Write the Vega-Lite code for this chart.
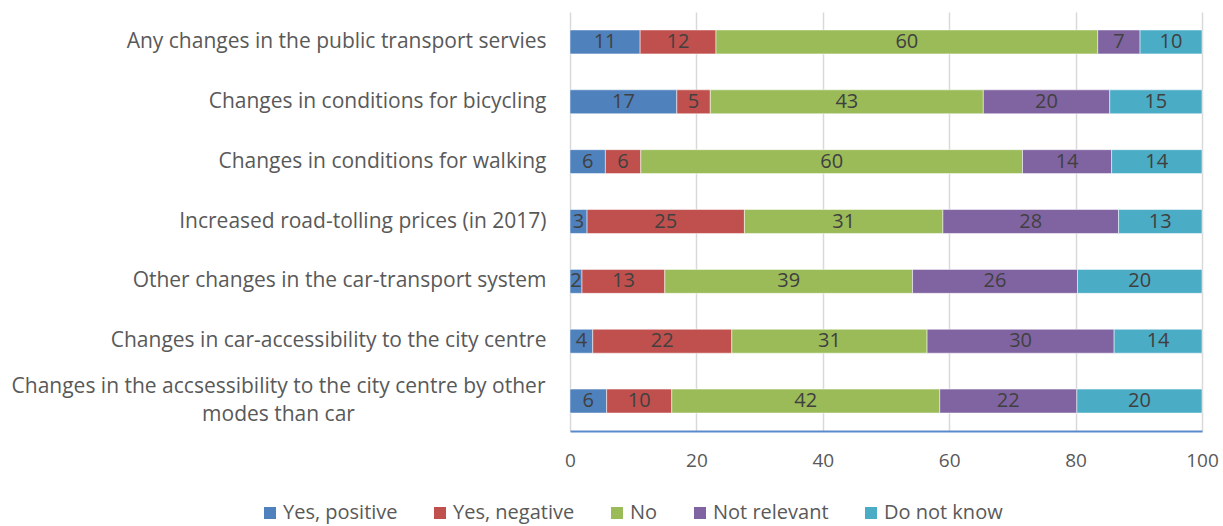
{
  "$schema": "https://vega.github.io/schema/vega-lite/v6.json",
  "width": 632,
  "height": 419,
  "autosize": {"type": "none"},
  "padding": {"left": 570, "top": 12, "right": 21, "bottom": 95},
  "background": "white",
  "config": {"font": "Open Sans", "view": {"stroke": null}},
  "data": {
    "values": [
      {"q": "Any changes in the public transport servies", "r": "Yes, positive", "v": 11.1, "o": 1},
      {"q": "Any changes in the public transport servies", "r": "Yes, negative", "v": 12.0, "o": 2},
      {"q": "Any changes in the public transport servies", "r": "No", "v": 60.4, "o": 3},
      {"q": "Any changes in the public transport servies", "r": "Not relevant", "v": 6.7, "o": 4},
      {"q": "Any changes in the public transport servies", "r": "Do not know", "v": 9.8, "o": 5},
      {"q": "Changes in conditions for bicycling", "r": "Yes, positive", "v": 16.9, "o": 1},
      {"q": "Changes in conditions for bicycling", "r": "Yes, negative", "v": 5.3, "o": 2},
      {"q": "Changes in conditions for bicycling", "r": "No", "v": 43.2, "o": 3},
      {"q": "Changes in conditions for bicycling", "r": "Not relevant", "v": 20.0, "o": 4},
      {"q": "Changes in conditions for bicycling", "r": "Do not know", "v": 14.6, "o": 5},
      {"q": "Changes in conditions for walking", "r": "Yes, positive", "v": 5.6, "o": 1},
      {"q": "Changes in conditions for walking", "r": "Yes, negative", "v": 5.6, "o": 2},
      {"q": "Changes in conditions for walking", "r": "No", "v": 60.4, "o": 3},
      {"q": "Changes in conditions for walking", "r": "Not relevant", "v": 14.1, "o": 4},
      {"q": "Changes in conditions for walking", "r": "Do not know", "v": 14.3, "o": 5},
      {"q": "Increased road-tolling prices (in 2017)", "r": "Yes, positive", "v": 2.7, "o": 1},
      {"q": "Increased road-tolling prices (in 2017)", "r": "Yes, negative", "v": 24.9, "o": 2},
      {"q": "Increased road-tolling prices (in 2017)", "r": "No", "v": 31.4, "o": 3},
      {"q": "Increased road-tolling prices (in 2017)", "r": "Not relevant", "v": 27.8, "o": 4},
      {"q": "Increased road-tolling prices (in 2017)", "r": "Do not know", "v": 13.2, "o": 5},
      {"q": "Other changes in the car-transport system", "r": "Yes, positive", "v": 1.9, "o": 1},
      {"q": "Other changes in the car-transport system", "r": "Yes, negative", "v": 13.1, "o": 2},
      {"q": "Other changes in the car-transport system", "r": "No", "v": 39.2, "o": 3},
      {"q": "Other changes in the car-transport system", "r": "Not relevant", "v": 26.1, "o": 4},
      {"q": "Other changes in the car-transport system", "r": "Do not know", "v": 19.7, "o": 5},
      {"q": "Changes in car-accessibility to the city centre", "r": "Yes, positive", "v": 3.6, "o": 1},
      {"q": "Changes in car-accessibility to the city centre", "r": "Yes, negative", "v": 22.0, "o": 2},
      {"q": "Changes in car-accessibility to the city centre", "r": "No", "v": 30.9, "o": 3},
      {"q": "Changes in car-accessibility to the city centre", "r": "Not relevant", "v": 29.6, "o": 4},
      {"q": "Changes in car-accessibility to the city centre", "r": "Do not know", "v": 13.9, "o": 5},
      {"q": "Changes in the accsessibility to the city centre by other|modes than car", "r": "Yes, positive", "v": 5.8, "o": 1},
      {"q": "Changes in the accsessibility to the city centre by other|modes than car", "r": "Yes, negative", "v": 10.3, "o": 2},
      {"q": "Changes in the accsessibility to the city centre by other|modes than car", "r": "No", "v": 42.4, "o": 3},
      {"q": "Changes in the accsessibility to the city centre by other|modes than car", "r": "Not relevant", "v": 21.7, "o": 4},
      {"q": "Changes in the accsessibility to the city centre by other|modes than car", "r": "Do not know", "v": 19.8, "o": 5}
    ]
  },
  "encoding": {
    "y": {
      "field": "q",
      "type": "nominal",
      "sort": null,
      "title": null,
      "scale": {"paddingInner": 0.6, "paddingOuter": 0.3},
      "axis": {
        "domain": false,
        "ticks": false,
        "labelFontSize": 21,
        "labelColor": "#595959",
        "labelPadding": {"condition": {"test": "indexof(datum.label, '|') >= 0", "value": 292}, "value": 24},
        "labelAlign": {"condition": {"test": "indexof(datum.label, '|') >= 0", "value": "center"}, "value": "right"},
        "labelOffset": {"condition": {"test": "indexof(datum.label, '|') >= 0", "value": -14}, "value": 0},
        "labelLimit": 0,
        "labelLineHeight": 28,
        "labelExpr": "split(datum.label, '|')"
      }
    },
    "x": {
      "field": "v",
      "type": "quantitative",
      "stack": "zero",
      "title": null,
      "scale": {"domain": [0, 100], "nice": false},
      "axis": {
        "values": [0, 20, 40, 60, 80, 100],
        "grid": true,
        "gridColor": "#D9D9D9",
        "gridWidth": 1.5,
        "domainColor": "#5B8ACB",
        "domainWidth": 2,
        "ticks": false,
        "labelFlush": false,
        "labelFontSize": 19,
        "labelColor": "#595959",
        "labelPadding": 20
      }
    },
    "order": {"field": "o", "type": "quantitative"}
  },
  "layer": [
    {
      "mark": {"type": "bar", "stroke": "white", "strokeWidth": 1, "strokeOpacity": 0.5},
      "encoding": {
        "color": {
          "field": "r",
          "type": "nominal",
          "scale": {
            "domain": ["Yes, positive", "Yes, negative", "No", "Not relevant", "Do not know"],
            "range": ["#4F81BD", "#C0504D", "#9BBB59", "#8064A2", "#4BACC6"]
          },
          "legend": {
            "title": null,
            "orient": "none",
            "direction": "horizontal",
            "columns": 5,
            "legendX": -310,
            "legendY": 491,
            "symbolType": "square",
            "symbolSize": 144,
            "symbolStrokeWidth": 0,
            "labelFontSize": 20,
            "labelColor": "#595959",
            "labelOffset": 3,
            "columnPadding": 32
          }
        }
      }
    },
    {
      "mark": {"type": "text", "fontSize": 20, "color": "#404040"},
      "encoding": {
        "x": {"field": "v", "type": "quantitative", "stack": "zero", "bandPosition": 0.5},
        "detail": {"field": "r"},
        "text": {"field": "v", "type": "quantitative", "format": ".0f"}
      }
    }
  ]
}
